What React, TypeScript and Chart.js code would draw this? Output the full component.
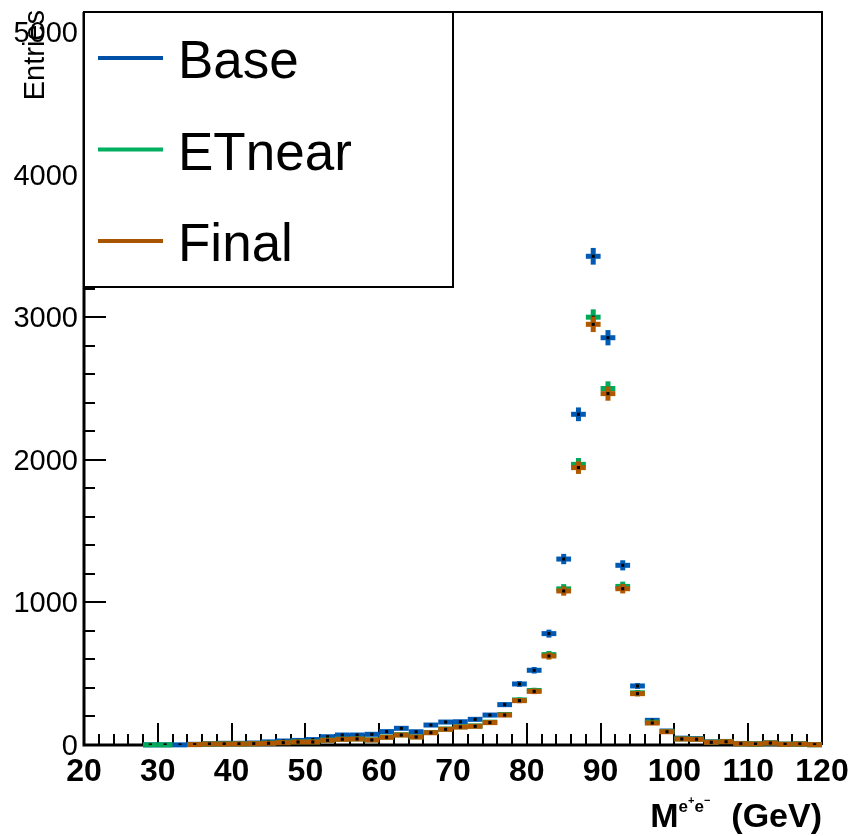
import React, { useEffect, useRef } from 'react';
import { Chart, registerables } from 'chart.js';

Chart.register(...registerables);

// ---- data ----
const binWidth = 2;
const binCenters = [
  29, 31, 33, 35, 37, 39, 41, 43, 45, 47, 49, 51, 53, 55, 57, 59, 61, 63, 65, 67, 69, 71, 73,
  75, 77, 79, 81, 83, 85, 87, 89, 91, 93, 95, 97, 99, 101, 103, 105, 107, 109, 111, 113, 115, 117, 119,
];
const baseValues = [
  1, 1, 1, 5, 9, 12, 12, 14, 22, 28, 32, 38, 58, 70, 70, 75, 94, 117, 93, 140, 161, 163, 180,
  210, 283, 428, 524, 781, 1304, 2319, 3427, 2856, 1260, 414, 173, 98, 48, 45, 22, 25, 11, 8, 15, 6, 8, 3,
];
const etnearValues = [
  1, 1, null, 3, 7, 8, 8, 9, 13, 17, 22, 22, 34, 41, 43, 36, 56, 72, 58, 88, 112, 128, 134,
  160, 214, 316, 382, 634, 1095, 1968, 3000, 2500, 1112, 366, 160, 95, 43, 41, 20, 24, 9, 7, 14, 5, 7, 2,
];
const finalValues = [
  null, null, null, 3, 7, 7, 8, 9, 12, 16, 21, 21, 33, 40, 42, 35, 54, 70, 56, 86, 110, 126, 131,
  157, 210, 311, 376, 624, 1080, 1945, 2950, 2464, 1096, 360, 154, 93, 42, 40, 19, 23, 9, 7, 14, 5, 7, 2,
];
const seriesNames = ['Base', 'ETnear', 'Final'];
const xTickLabels = [20, 30, 40, 50, 60, 70, 80, 90, 100, 110, 120];
const yTickLabels = [0, 1000, 2000, 3000, 4000, 5000];
const xRange = { min: 20, max: 120, minorStep: 2 };
const yRange = { min: 0, max: 5140, minorStep: 200 };

const COLORS = ['#005ab4', '#00a85a', '#b05800'];
const LEGEND_COLORS = ['#0050a8', '#00b060', '#a85400'];

const toPoints = (vals: (number | null)[]) =>
  binCenters.map((x, i) => ({ x, y: vals[i] }));

const histPlugin = {
  id: 'histPlugin',
  beforeDatasetsDraw(chart: any) {
    const { ctx, chartArea: a, scales } = chart;
    const xs = scales.x, ys = scales.y;
    ctx.save();
    ctx.strokeStyle = '#000';
    ctx.lineWidth = 2;
    ctx.lineCap = 'butt';
    // x ticks (inward)
    for (let v = xRange.min; v <= xRange.max + 1e-9; v += xRange.minorStep) {
      const px = Math.round(xs.getPixelForValue(v));
      const isMajor = xTickLabels.includes(v);
      const len = isMajor ? 22 : 11;
      ctx.beginPath();
      ctx.moveTo(px, a.bottom);
      ctx.lineTo(px, a.bottom - len);
      ctx.stroke();
    }
    // y ticks (inward)
    for (let v = yRange.min; v <= yRange.max + 1e-9; v += yRange.minorStep) {
      const py = Math.round(ys.getPixelForValue(v));
      const isMajor = yTickLabels.includes(v);
      const len = isMajor ? 22 : 11;
      ctx.beginPath();
      ctx.moveTo(a.left, py);
      ctx.lineTo(a.left + len, py);
      ctx.stroke();
    }
    // frame
    ctx.lineWidth = 2;
    ctx.beginPath();
    ctx.moveTo(a.left, a.top);
    ctx.lineTo(a.right, a.top);
    ctx.lineTo(a.right, a.bottom);
    ctx.stroke();
    ctx.lineWidth = 3;
    ctx.beginPath();
    ctx.moveTo(a.left, a.top);
    ctx.lineTo(a.left, a.bottom);
    ctx.lineTo(a.right, a.bottom);
    ctx.stroke();
    ctx.restore();
  },
  beforeDatasetDraw(chart: any, args: any) {
    const ds = chart.data.datasets[args.index];
    const { ctx, scales } = chart;
    const xs = scales.x, ys = scales.y;
    ctx.save();
    ctx.strokeStyle = ds.errColor;
    ctx.lineWidth = 5;
    ctx.lineCap = 'butt';
    for (const p of ds.data) {
      if (p.y == null) continue;
      const err = Math.sqrt(p.y);
      const xl = xs.getPixelForValue(p.x - binWidth / 2);
      const xr = xs.getPixelForValue(p.x + binWidth / 2);
      const xc = xs.getPixelForValue(p.x);
      const yc = ys.getPixelForValue(p.y);
      ctx.beginPath();
      ctx.moveTo(xl, yc);
      ctx.lineTo(xr, yc);
      ctx.stroke();
      ctx.beginPath();
      ctx.moveTo(xc, ys.getPixelForValue(p.y + err));
      ctx.lineTo(xc, ys.getPixelForValue(Math.max(p.y - err, 0)));
      ctx.stroke();
    }
    ctx.restore();
  },
  afterDraw(chart: any) {
    const { ctx, chartArea: a } = chart;
    ctx.save();
    // legend box
    const bw = 369, bh = 275;
    ctx.fillStyle = '#fff';
    ctx.fillRect(a.left, a.top, bw, bh);
    ctx.strokeStyle = '#000';
    ctx.lineWidth = 2;
    ctx.strokeRect(a.left, a.top, bw, bh);
    seriesNames.forEach((name, i) => {
      const y = a.top + 46 + i * 91.5;
      ctx.strokeStyle = LEGEND_COLORS[i];
      ctx.lineWidth = 4;
      ctx.beginPath();
      ctx.moveTo(a.left + 14, y);
      ctx.lineTo(a.left + 79, y);
      ctx.stroke();
      ctx.fillStyle = '#000';
      ctx.font = '53px "Liberation Sans", Arial, sans-serif';
      ctx.textBaseline = 'alphabetic';
      ctx.textAlign = 'left';
      ctx.fillText(name, a.left + 94, y + 20);
    });
    // y title
    ctx.save();
    ctx.translate(44, a.top - 2);
    ctx.rotate(-Math.PI / 2);
    ctx.font = '29px "Liberation Sans", Arial, sans-serif';
    ctx.textAlign = 'right';
    ctx.textBaseline = 'alphabetic';
    ctx.fillStyle = '#000';
    ctx.fillText('Entries', 0, 0);
    ctx.restore();
    // x title  M^{e+e-} (GeV)
    ctx.fillStyle = '#000';
    ctx.textBaseline = 'alphabetic';
    ctx.textAlign = 'left';
    const baseY = 827;
    ctx.font = 'bold 34px "Liberation Sans", Arial, sans-serif';
    const gev = '(GeV)';
    const gevW = ctx.measureText(gev).width;
    const gevX = a.right - gevW;
    ctx.fillText(gev, gevX, baseY);
    const supEnd = gevX - 21;
    ctx.font = 'bold 17px "Liberation Sans", Arial, sans-serif';
    const eW = ctx.measureText('e').width;
    ctx.font = 'bold 11px "Liberation Sans", Arial, sans-serif';
    const pW = ctx.measureText('+').width;
    const mW = ctx.measureText('\u2212').width;
    const supStart = supEnd - (eW * 2 + pW + mW);
    let cx = supStart;
    ctx.font = 'bold 17px "Liberation Sans", Arial, sans-serif';
    ctx.fillText('e', cx, 812); cx += eW;
    ctx.font = 'bold 11px "Liberation Sans", Arial, sans-serif';
    ctx.fillText('+', cx, 804); cx += pW;
    ctx.font = 'bold 17px "Liberation Sans", Arial, sans-serif';
    ctx.fillText('e', cx, 812); cx += eW;
    ctx.font = 'bold 11px "Liberation Sans", Arial, sans-serif';
    ctx.fillText('\u2212', cx, 804);
    ctx.font = 'bold 34px "Liberation Sans", Arial, sans-serif';
    const mWidth = ctx.measureText('M').width;
    ctx.fillText('M', supStart - mWidth, baseY);
    ctx.restore();
  },
};

export default function App() {
  const ref = useRef<HTMLCanvasElement>(null);
  useEffect(() => {
    const seriesValues = [baseValues, etnearValues, finalValues];
    const chart = new Chart(ref.current as HTMLCanvasElement, {
      type: 'scatter',
      data: {
        datasets: seriesNames.map((name, i) => ({
          label: name,
          data: toPoints(seriesValues[i]),
          errColor: COLORS[i],
          order: 3 - i,
          pointStyle: 'rect',
          pointRadius: 2.2,
          pointHoverRadius: 2.2,
          backgroundColor: '#000',
          borderColor: '#000',
          borderWidth: 0,
          showLine: false,
        })) as any,
      },
      options: {
        animation: false,
        responsive: true,
        maintainAspectRatio: false,
        events: [],
        layout: { padding: { top: 12, right: 34, left: 0, bottom: 0 } },
        plugins: { legend: { display: false }, tooltip: { enabled: false } },
        scales: {
          x: {
            type: 'linear',
            min: xRange.min,
            max: xRange.max,
            grid: { display: false, drawTicks: false },
            border: { display: false },
            afterBuildTicks: (s: any) => {
              s.ticks = xTickLabels.map((v) => ({ value: v }));
            },
            ticks: {
              padding: 8,
              color: '#000',
              maxRotation: 0,
              minRotation: 0,
              autoSkip: false,
              font: { family: '"Liberation Sans", Arial, sans-serif', size: 32, weight: 'bold' },
              callback: (v: any) => String(v),
            },
            afterFit: (s: any) => {
              s.height = 91;
              s.paddingLeft = 0;
              s.paddingRight = 0;
            },
          },
          y: {
            type: 'linear',
            min: yRange.min,
            max: yRange.max,
            grid: { display: false, drawTicks: false },
            border: { display: false },
            afterBuildTicks: (s: any) => {
              s.ticks = yTickLabels.map((v) => ({ value: v }));
            },
            ticks: {
              padding: 6,
              labelOffset: 2,
              color: '#000',
              autoSkip: false,
              font: { family: '"Liberation Sans", Arial, sans-serif', size: 29 },
              callback: (v: any) => String(v),
            },
            afterFit: (s: any) => {
              s.width = 84;
              s.paddingTop = 0;
              s.paddingBottom = 0;
            },
          },
        },
      } as any,
      plugins: [histPlugin],
    });
    return () => chart.destroy();
  }, []);
  return (
    <div style={{ position: 'absolute', left: 0, top: 0, width: 856, height: 836, background: '#fff' }}>
      <canvas ref={ref} />
    </div>
  );
}
